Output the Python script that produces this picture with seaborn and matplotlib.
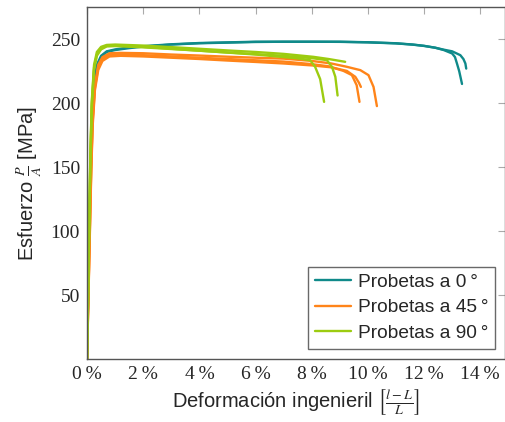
import matplotlib
matplotlib.use('Agg')
import matplotlib.pyplot as plt
import seaborn as sns

# deformación [%] y esfuerzo [MPa]
x_0a = [0, 0.04, 0.08, 0.13, 0.18, 0.25, 0.35, 0.5, 0.7, 1.0, 1.5, 2.0, 3.0, 4.0, 5.0, 6.0, 7.0,
        8.0, 9.0, 10.0, 11.0, 11.6, 12.0, 12.4, 12.7, 13.0, 13.1, 13.17, 13.25, 13.3, 13.35]
y_0a = [0, 50, 100, 150, 190, 215, 230, 237, 240.5, 242, 243.5, 244.5, 246, 247, 247.5, 248, 248,
        248, 248, 247.6, 246.8, 245.8, 244.8, 243.3, 241.5, 238.8, 236, 231, 225, 220, 215]
x_0b = [0, 0.04, 0.08, 0.13, 0.18, 0.25, 0.35, 0.5, 0.7, 1.0, 1.5, 2.0, 3.0, 4.0, 5.0, 6.0, 7.0,
        8.0, 9.0, 10.0, 11.0, 11.6, 12.0, 12.4, 12.7, 13.0, 13.29, 13.4, 13.47, 13.5]
y_0b = [0, 48, 96, 145, 185, 212, 228, 236, 240, 241.5, 243, 244.2, 245.8, 246.8, 247.3, 247.8, 248,
        248, 247.9, 247.5, 246.7, 245.7, 244.7, 243.3, 241.8, 240.5, 237.5, 234.5, 231, 227]

x_45a = [0, 0.05, 0.1, 0.15, 0.2, 0.28, 0.4, 0.55, 0.8, 1.2, 2.0, 3.0, 4.0, 5.0, 6.0, 7.0, 8.0,
         8.6, 9.13, 9.43, 9.6, 9.7]
y_45a = [0, 50, 100, 150, 185, 212, 228, 234.5, 237.5, 238, 237.5, 236.5, 235.5, 234.5, 233.5, 232.5,
         230.5, 228.8, 225.2, 221.9, 214, 201]
x_45b = [0, 0.05, 0.1, 0.15, 0.2, 0.28, 0.4, 0.55, 0.8, 1.2, 2.0, 3.0, 4.0, 5.0, 6.0, 7.0, 8.0,
         8.7, 9.25, 9.55, 9.68, 9.75]
y_45b = [0, 48, 97, 146, 182, 210, 226, 233, 236.5, 237, 236.5, 235.5, 234.5, 233.3, 232.2, 231,
         229.5, 228, 225.2, 220.6, 216, 212.7]
x_45c = [0, 0.05, 0.1, 0.15, 0.2, 0.28, 0.4, 0.55, 0.8, 1.2, 2.0, 3.0, 4.0, 5.0, 6.0, 7.0, 8.0,
         8.7, 9.25, 9.73, 10.02, 10.2, 10.32]
y_45c = [0, 52, 103, 153, 188, 214, 230, 236, 239, 239.3, 239, 238, 237.2, 236.3, 235.5, 234.8,
         233, 231, 228.4, 225.8, 221.9, 212.7, 197.7]

x_90a = [0, 0.04, 0.08, 0.12, 0.17, 0.25, 0.35, 0.5, 0.7, 1.0, 2.0, 3.0, 4.0, 5.0, 6.0, 7.0,
         7.5, 7.94, 8.12, 8.3, 8.44]
y_90a = [0, 55, 110, 160, 200, 228, 238, 243, 244.8, 245, 244, 242.5, 241, 239.5, 238, 236,
         235, 233.6, 228.4, 218.8, 201]
x_90b = [0, 0.04, 0.08, 0.12, 0.17, 0.25, 0.35, 0.5, 0.7, 1.0, 2.0, 3.0, 4.0, 5.0, 6.0, 7.0,
         8.0, 8.54, 8.72, 8.84, 8.92]
y_90b = [0, 53, 106, 156, 197, 226, 237, 242, 244.3, 244.6, 243.6, 242.3, 241, 239.6, 238.3, 237,
         235.2, 233.6, 228.4, 220.6, 206]
x_90c = [0, 0.04, 0.08, 0.12, 0.17, 0.25, 0.35, 0.5, 0.7, 1.0, 2.0, 3.0, 4.0, 5.0, 6.0, 7.0,
         8.06, 8.6, 9.19]
y_90c = [0, 56, 112, 162, 202, 230, 240, 244, 245.5, 245.8, 245, 243.8, 242.5, 241.2, 240, 238.5,
         236.2, 234.5, 232.3]

series = [
    ('Probetas a 0\u2009°', '#0f8a8a', [(x_0a, y_0a), (x_0b, y_0b)]),
    ('Probetas a 45\u2009°', '#ff8419', [(x_45a, y_45a), (x_45b, y_45b), (x_45c, y_45c)]),
    ('Probetas a 90\u2009°', '#9ccc10', [(x_90a, y_90a), (x_90b, y_90b), (x_90c, y_90c)]),
]

sns.set_style('white')
plt.rcParams['font.family'] = ['Liberation Sans', 'DejaVu Sans']
plt.rcParams['mathtext.fontset'] = 'stix'

fig = plt.figure(figsize=(5.06, 4.22), dpi=100)
ax = fig.add_axes([0.172, 0.149, 0.826, 0.834])

for etiqueta, color, curvas in series:
    for i, (xs, ys) in enumerate(curvas):
        sns.lineplot(x=xs, y=ys, ax=ax, color=color, linewidth=1.7,
                     label=etiqueta if i == 0 else None, legend=False)

ax.set_xlim(0, 14.88)
ax.set_ylim(0, 275)
ax.set_xticks(range(0, 15, 2))
ax.set_xticklabels([f'{v}\u2009%' for v in range(0, 15, 2)], family='Liberation Serif', fontsize=14)
ax.set_yticks([50, 100, 150, 200, 250])
ax.set_yticklabels(['50', '100', '150', '200', '250'], family='Liberation Serif', fontsize=14)
ax.tick_params(direction='in', length=5, color='#aaaaaa', top=True, right=True, pad=5)
for s in ax.spines.values():
    s.set_color('#555555')
    s.set_linewidth(1.0)

ax.set_xlabel(r'Deformación ingenieril $\left[\frac{l-L}{L}\right]$', fontsize=14.5, labelpad=3)
ax.set_ylabel(r'Esfuerzo $\frac{P}{A}$ [MPa]', fontsize=14.5, labelpad=5)

leg = ax.legend(loc='lower right', bbox_to_anchor=(0.977, 0.03), fontsize=13.8, frameon=True,
                fancybox=False, edgecolor='#444444', handlelength=1.9, borderaxespad=0,
                labelspacing=0.42, handletextpad=0.35, borderpad=0.35)
leg.get_frame().set_linewidth(1.0)

fig.savefig('out.png', dpi=100)
